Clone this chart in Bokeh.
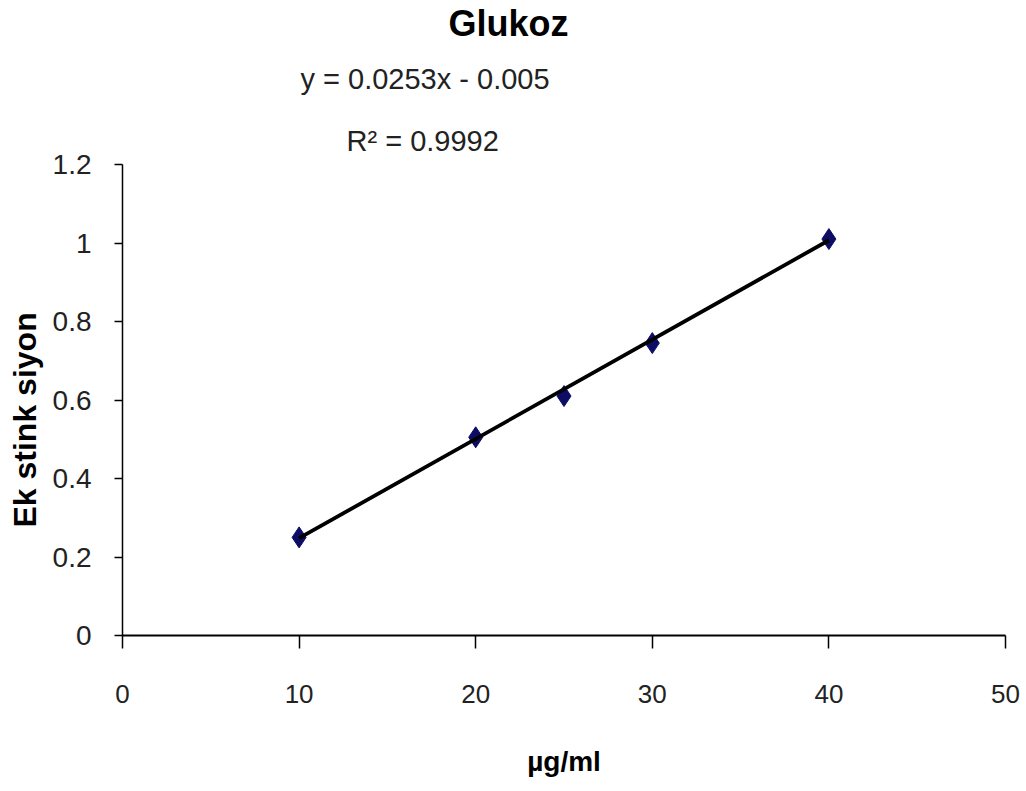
from bokeh.plotting import figure
from bokeh.models import Range1d, FixedTicker, Title
from bokeh.embed import file_html
from bokeh.resources import INLINE

# ---- data ----
conc = [10, 20, 25, 30, 40]              # µg/ml
absorb = [0.25, 0.505, 0.61, 0.745, 1.01]  # Ekstinksiyon
slope = 0.0253
intercept = -0.005
x_ticks = [0, 10, 20, 30, 40, 50]
y_ticks = [0, 0.2, 0.4, 0.6, 0.8, 1.0, 1.2]
y_tick_labels = ["0", "0.2", "0.4", "0.6", "0.8", "1", "1.2"]
title_text = "Glukoz"
eq_text = "y = 0.0253x - 0.005"
r2_text = "R² = 0.9992"
x_title = "µg/ml"
y_title = "Ek stink siyon"

FONT = "Liberation Sans"

p = figure(width=1026, height=791, output_backend="svg", toolbar_location=None,
           x_range=Range1d(0, 50), y_range=Range1d(0, 1.2),
           min_border_left=122, min_border_right=21,
           min_border_top=164, min_border_bottom=156, title=None)
p.outline_line_color = None
p.xgrid.visible = False
p.ygrid.visible = False

xa = p.xaxis[0]
xa.ticker = FixedTicker(ticks=x_ticks)
xa.minor_tick_line_color = None
xa.major_tick_in = 0
xa.major_tick_out = 13
xa.axis_line_width = 2
xa.major_tick_line_width = 1.5
xa.axis_line_color = "black"
xa.major_tick_line_color = "black"
xa.major_label_text_font = FONT
xa.major_label_text_font_size = "26px"
xa.major_label_text_color = "#222222"
xa.major_label_standoff = 36
xa.axis_label = x_title
xa.axis_label_text_font = FONT
xa.axis_label_text_font_style = "bold"
xa.axis_label_text_font_size = "28px"
xa.axis_label_text_color = "black"
xa.axis_label_standoff = 40

ya = p.yaxis[0]
ya.ticker = FixedTicker(ticks=y_ticks)
ya.major_label_overrides = {t: s for t, s in zip(y_ticks, y_tick_labels)}
ya.minor_tick_line_color = None
ya.major_tick_in = 0
ya.major_tick_out = 8
ya.axis_line_width = 1.5
ya.major_tick_line_width = 1.5
ya.axis_line_color = "black"
ya.major_tick_line_color = "black"
ya.major_label_text_font = FONT
ya.major_label_text_font_size = "28px"
ya.major_label_text_color = "#222222"
ya.major_label_standoff = 23

# markers
p.scatter(conc, absorb, marker="diamond", size=21, fill_color="#0d0d66",
          line_color="#0d0d66")

# linear trendline over the data span
x0, x1 = min(conc), max(conc)
p.line([x0, x1], [slope * x0 + intercept, slope * x1 + intercept],
       line_color="black", line_width=3.8)

# titles and equation (first added sits nearest the frame)
p.add_layout(Title(text=r2_text, align="left", offset=224, standoff=16,
                   text_font=FONT, text_font_style="normal",
                   text_font_size="29px", text_color="#222222"), "above")
p.add_layout(Title(text=eq_text, align="left", offset=178, standoff=37,
                   vertical_align="middle",
                   text_font=FONT, text_font_style="normal",
                   text_font_size="29px", text_color="#222222"), "above")
p.add_layout(Title(text=title_text, align="left", offset=326, standoff=0,
                   text_font=FONT, text_font_style="bold",
                   text_font_size="36px", text_color="black"), "above")
p.add_layout(Title(text=y_title, align="left", offset=108, standoff=10,
                   vertical_align="top",
                   text_font=FONT, text_font_style="bold",
                   text_font_size="32px", text_color="black"), "left")

open("out.html", "w").write(file_html(p, INLINE))
